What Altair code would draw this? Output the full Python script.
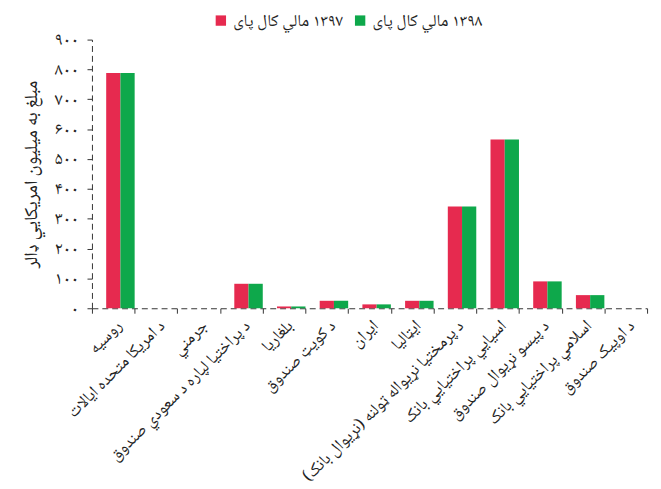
import altair as alt
import pandas as pd

categories = [
    "روسیه",
    "د امریکا متحده ایالات",
    "جرمني",
    "د پراختیا لپاره د سعودي صندوق",
    "بلغاریا",
    "د کویټ صندوق",
    "ایران",
    "ایټالیا",
    "د پرمختیا نړیواله ټولنه (نړیوال بانک)",
    "اسیايي پراختیايي بانک",
    "د پیسو نړیوال صندوق",
    "اسلامي پراختیايي بانک",
    "د اوپیک صندوق",
]
series_names = ["۱۳۹۷ مالي کال پای", "۱۳۹۸ مالي کال پای"]
values_1397 = [788, 0, 0, 82, 6, 25, 13, 25, 341, 565, 90, 44, 0]
values_1398 = [788, 0, 0, 82, 6, 25, 13, 25, 341, 565, 90, 44, 0]
series_colors = ["#E62A4F", "#0EA84B"]
y_ticks = [0, 100, 200, 300, 400, 500, 600, 700, 800, 900]
y_tick_labels = ["۰", "۱۰۰", "۲۰۰", "۳۰۰", "۴۰۰", "۵۰۰", "۶۰۰", "۷۰۰", "۸۰۰", "۹۰۰"]
y_title = "مبلغ به میلیون امریکايي ډالر"


def rtl(s):
    # right-to-left embedding so the browser lays the text out as Pashto
    return "\u202b" + s + "\u202c"


cats_rtl = [rtl(c) for c in categories]
series_rtl = [rtl(s) for s in series_names]

rows = []
for c, a, b in zip(cats_rtl, values_1397, values_1398):
    rows.append({"cat": c, "series": series_rtl[0], "value": a})
    rows.append({"cat": c, "series": series_rtl[1], "value": b})
df = pd.DataFrame(rows)

label_expr = "[" + ",".join("'" + s + "'" for s in y_tick_labels) + "][round(datum.value/100)]"

FONT = "Noto Naskh Arabic, Noto Sans Arabic, DejaVu Sans"
AX = "#333333"

chart = alt.Chart(df).mark_bar().encode(
    x=alt.X(
        "cat:N", sort=cats_rtl, title=None,
        scale=alt.Scale(paddingInner=0, paddingOuter=0),
        axis=alt.Axis(
            labelAngle=315, tickBand="extent", domainDash=[6, 4],
            domainColor=AX, tickColor=AX, tickSize=5, labelFontSize=17,
            labelFont=FONT, labelColor="#222222", labelPadding=4, labelLimit=0,
        ),
    ),
    xOffset=alt.XOffset(
        "series:N",
        scale=alt.Scale(domain=["_pad"] + series_rtl, paddingInner=0, paddingOuter=0),
    ),
    y=alt.Y(
        "value:Q",
        scale=alt.Scale(domain=[0, 900], nice=False),
        axis=alt.Axis(
            values=y_ticks, labelExpr=label_expr, title=rtl(y_title), grid=False,
            domainDash=[6, 4], domainColor=AX, tickColor=AX, tickSize=5,
            labelFont=FONT, labelFontSize=18, labelColor="#222222", labelPadding=9,
            titleFont=FONT, titleFontSize=19, titleFontWeight="normal",
            titleColor="#222222", titlePadding=14,
        ),
    ),
    color=alt.Color(
        "series:N",
        scale=alt.Scale(domain=series_rtl, range=series_colors),
        legend=alt.Legend(
            title=None, orient="none", direction="horizontal",
            legendX=122, legendY=-28, symbolType="square", symbolSize=110,
            symbolStrokeWidth=0, labelFont=FONT, labelFontSize=17,
            labelColor="#222222", columnPadding=8, labelOffset=4, labelLimit=0,
        ),
    ),
).properties(
    width=562, height=272, autosize="none",
    padding={"left": 85, "top": 29, "right": 6, "bottom": 180},
).configure_view(stroke=None)

chart.save("out.html", embed_options={"renderer": "svg", "actions": False})
